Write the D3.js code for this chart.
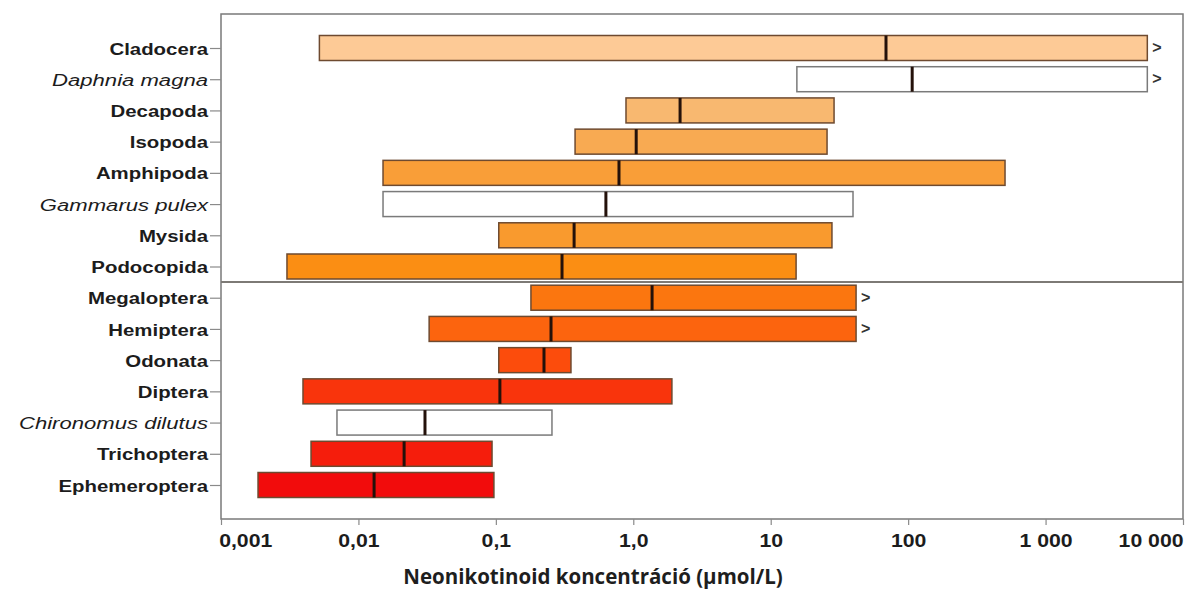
<!DOCTYPE html>
<html>
<head>
<meta charset="utf-8">
<script src="https://cdn.jsdelivr.net/npm/d3@7"></script>
<style>
  html, body { margin: 0; padding: 0; background: #fff; }
  svg { display: block; }
</style>
</head>
<body>
<svg id="chart" width="1187" height="589"></svg>
<script>
// Taxa (top to bottom): crustaceans first, then insects
const categories = [
  "Cladocera", "Daphnia magna", "Decapoda", "Isopoda", "Amphipoda",
  "Gammarus pulex", "Mysida", "Podocopida",
  "Megaloptera", "Hemiptera", "Odonata", "Diptera",
  "Chironomus dilutus", "Trichoptera", "Ephemeroptera"
];
// Species-level rows drawn in italics with open bars
const speciesRows = ["Daphnia magna", "Gammarus pulex", "Chironomus dilutus"];
// Number of crustacean rows above the divider
const crustaceanCount = 8;

// Concentration ranges (µmol/L): lowest, median, highest
const lows    = [0.0052, 15.5, 0.885, 0.377, 0.0151, 0.0151, 0.105, 0.00302,
                 0.180, 0.0327, 0.105, 0.00395, 0.00698, 0.00452, 0.00186];
const medians = [69, 107, 2.19, 1.05, 0.787, 0.632, 0.371, 0.303,
                 1.37, 0.252, 0.224, 0.107, 0.0305, 0.0215, 0.0130];
const highs   = [5500, 5500, 28.9, 25.7, 507, 39.7, 27.9, 15.3,
                 41.8, 41.8, 0.352, 1.91, 0.256, 0.0938, 0.0968];
// Ranges whose upper end lies beyond the tested maximum
const exceeds = [true, true, false, false, false, false, false, false,
                 true, true, false, false, false, false, false];

// Axis ticks
const tickValues = [0.001, 0.01, 0.1, 1, 10, 100, 1000, 10000];
const tickLabels = ["0,001", "0,01", "0,1", "1,0", "10", "100", "1 000", "10 000"];

// Fill per row, light orange down to red; white for species rows
const barColors = [
  "#fdca96", "#ffffff", "#f8b870", "#f8aa52", "#f99e38",
  "#ffffff", "#f99a2e", "#fb8e13",
  "#fb760f", "#fc640e", "#fc4c0c", "#f9340c",
  "#ffffff", "#f51d0c", "#f20c0c"
];

const svg = d3.select("#chart");
const plotLeft = 221, plotRight = 1183, plotTop = 14, plotBottom = 519;

const x = d3.scaleLog().domain([0.001, 10000]).range([plotLeft, plotRight]);
const y = d3.scalePoint().domain(categories).range([48, 485]);
const barH = 25;

const rows = categories.map((c, i) => ({
  name: c, lo: lows[i], med: medians[i], hi: highs[i],
  more: exceeds[i], fill: barColors[i], species: speciesRows.includes(c)
}));

// Plot frame
svg.append("rect")
  .attr("x", plotLeft).attr("y", plotTop)
  .attr("width", plotRight - plotLeft).attr("height", plotBottom - plotTop)
  .attr("fill", "none").attr("stroke", "#7a7a7a").attr("stroke-width", 1.5);

// Divider between crustaceans and insects
const divY = (y(categories[crustaceanCount - 1]) + y(categories[crustaceanCount])) / 2;
svg.append("line")
  .attr("x1", plotLeft).attr("x2", plotRight).attr("y1", divY).attr("y2", divY)
  .attr("stroke", "#7d7a76").attr("stroke-width", 2);

// Range bars
const g = svg.append("g");
g.selectAll("rect.bar").data(rows).join("rect")
  .attr("class", "bar")
  .attr("x", d => x(d.lo))
  .attr("y", d => y(d.name) - barH / 2)
  .attr("width", d => x(d.hi) - x(d.lo))
  .attr("height", barH)
  .attr("fill", d => d.fill)
  .attr("stroke", d => d.species ? "#7a7a7a" : "#6e4a30")
  .attr("stroke-width", 1.5);

// Median markers
g.selectAll("line.med").data(rows).join("line")
  .attr("class", "med")
  .attr("x1", d => x(d.med)).attr("x2", d => x(d.med))
  .attr("y1", d => y(d.name) - barH / 2)
  .attr("y2", d => y(d.name) + barH / 2)
  .attr("stroke", "#24110a").attr("stroke-width", 3);

// ">" for open-ended ranges
g.selectAll("text.more").data(rows.filter(d => d.more)).join("text")
  .attr("class", "more")
  .attr("x", d => x(d.hi) + 5)
  .attr("y", d => y(d.name) + 5)
  .attr("font-family", "Liberation Sans, Arial, sans-serif")
  .attr("font-weight", "bold")
  .attr("font-size", 16)
  .attr("fill", "#333")
  .text(">");

// Category axis
const yAxis = svg.append("g")
  .attr("transform", `translate(${plotLeft},0)`)
  .call(d3.axisLeft(y).tickSize(11).tickPadding(0));
yAxis.select(".domain").remove();
yAxis.selectAll(".tick line").attr("stroke", "#8a8a8a").attr("stroke-width", 1.2);
yAxis.selectAll(".tick text")
  .attr("x", 0)
  .attr("dy", "0.36em")
  .attr("transform", d => speciesRows.includes(d)
      ? "translate(-13,0) scale(1.3,1)" : "translate(-13,0) scale(1.2,1)")
  .attr("font-family", "Liberation Sans, Arial, sans-serif")
  .attr("font-size", 17)
  .attr("font-weight", d => speciesRows.includes(d) ? "normal" : "bold")
  .attr("font-style", d => speciesRows.includes(d) ? "italic" : "normal")
  .attr("fill", "#1c1c1c");

// Concentration axis
const xAxis = svg.append("g")
  .attr("transform", `translate(0,${plotBottom})`)
  .call(d3.axisBottom(x).tickValues(tickValues)
    .tickFormat((d, i) => tickLabels[i]).tickSize(6).tickPadding(0));
xAxis.select(".domain").remove();
xAxis.selectAll(".tick line").attr("stroke", "#8a8a8a").attr("stroke-width", 1.2);
const last = tickValues.length - 1;
xAxis.selectAll(".tick text")
  .attr("y", 28).attr("dy", 0)
  .attr("transform", "scale(1.18,1)")
  .attr("x", (d, i) => i === 0 ? -2 : 0)
  .attr("text-anchor", (d, i) => i === 0 ? "start" : i === last ? "end" : "middle")
  .attr("font-family", "Liberation Sans, Arial, sans-serif")
  .attr("font-size", 18)
  .attr("font-weight", "bold")
  .attr("fill", "#1c1c1c");

// Axis title
svg.append("text")
  .attr("x", 593).attr("y", 584)
  .attr("text-anchor", "middle")
  .attr("font-family", "Open Sans, Noto Sans, sans-serif")
  .attr("font-weight", "bold")
  .attr("font-size", 20.5)
  .attr("fill", "#1e1e1e")
  .text("Neonikotinoid koncentráció (µmol/L)");
</script>
</body>
</html>
